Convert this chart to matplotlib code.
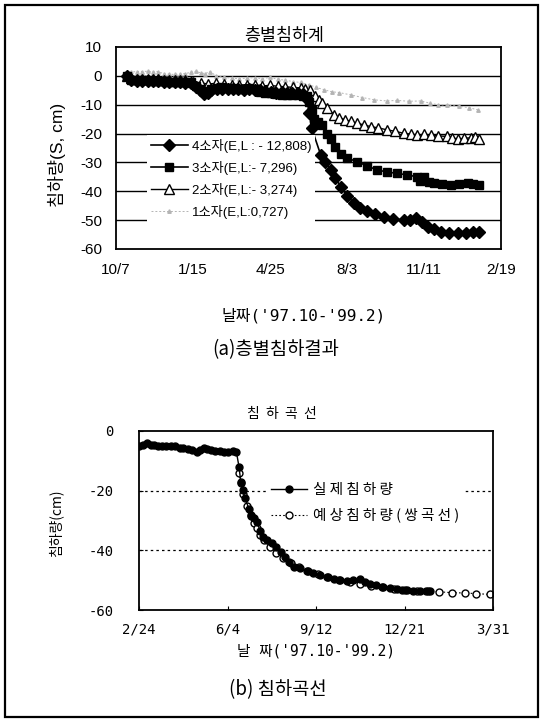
import matplotlib
matplotlib.use("Agg")
import matplotlib.pyplot as plt
from matplotlib.patches import Rectangle

KR = ['Liberation Sans', 'Noto Sans CJK KR']
KR_MONO = ['DejaVu Sans Mono', 'Noto Sans CJK KR']
plt.rcParams['font.family'] = KR
plt.rcParams['axes.unicode_minus'] = False

# ---- (a) layer settlement, days since '97.10.7
top_ticks = [0, 100, 200, 300, 400, 500]
top_ticklabels = ['10/7', '1/15', '4/25', '8/3', '11/11', '2/19']

s4_day = [14, 20, 27, 34, 41, 48, 55, 62, 69, 76, 83, 90, 97, 104, 109, 114, 119, 124, 131, 138,
          145, 152, 159, 166, 173, 180, 187, 194, 201, 208, 215, 222, 229, 236, 243, 248, 251, 254,
          266, 272, 279, 285, 292, 300, 309, 317, 326, 337, 348, 360, 374, 382, 389, 397, 405, 413,
          422, 433, 444, 455, 464, 471]
s4_val = [0, -1.5, -1.8, -1.8, -1.7, -1.8, -1.9, -2.0, -2.2, -2.2, -2.3, -2.4, -2.5, -3.8, -5.0, -6.3,
          -5.8, -5.0, -4.5, -4.6, -4.4, -4.7, -4.5, -4.8, -4.6, -4.9, -5.0, -5.4, -5.6, -5.8, -5.5, -5.9,
          -6.0, -5.8, -6.2, -8.0, -13.0, -18.0, -27.5, -30.0, -32.6, -35.5, -38.4, -41.5, -44.0, -45.8,
          -47.0, -48.0, -48.8, -49.5, -50.0, -49.8, -49.3, -50.8, -52.3, -53.2, -54.0, -54.3, -54.4,
          -54.3, -54.2, -54.0]

s3_day = [14, 20, 27, 34, 41, 48, 55, 62, 69, 76, 83, 90, 97, 104, 109, 114, 119, 124, 131, 138,
          145, 152, 159, 166, 173, 180, 187, 194, 201, 208, 215, 222, 229, 236, 243, 248, 251, 254,
          257, 262, 268, 274, 279, 285, 292, 300, 313, 326, 339, 352, 365, 378, 391, 395, 400, 406,
          413, 424, 435, 446, 457, 464, 471]
s3_val = [0, -1.3, -1.5, -1.6, -1.5, -1.7, -1.8, -1.9, -2.0, -2.1, -2.0, -2.2, -2.3, -3.5, -4.5, -5.5,
          -5.2, -4.5, -4.2, -4.0, -4.3, -4.1, -4.4, -4.5, -4.2, -4.5, -5.5, -5.8, -6.0, -6.3, -6.5, -6.6,
          -6.8, -6.7, -7.0, -7.0, -9.0, -12.0, -15.0, -16.0, -17.0, -20.0, -22.0, -24.5, -27.0, -28.5,
          -29.7, -31.2, -32.6, -33.3, -33.8, -34.3, -35.0, -36.5, -35.0, -36.8, -37.2, -37.5, -37.8,
          -37.5, -37.0, -37.6, -37.8]

s2_day = [14, 20, 27, 34, 41, 48, 55, 62, 69, 76, 83, 90, 100, 110, 120, 130, 140, 150, 160, 170,
          180, 190, 200, 210, 220, 230, 240, 246, 252, 258, 263, 268, 274, 283, 290, 298, 305, 313,
          322, 331, 340, 352, 362, 374, 383, 391, 400, 409, 418, 430, 437, 444, 452, 461, 466, 471]
s2_val = [0, -0.8, -1.0, -1.1, -1.0, -1.2, -1.2, -1.3, -1.3, -1.4, -1.5, -1.5, -2.0, -2.5, -2.8, -2.6,
          -2.9, -3.2, -3.0, -3.3, -3.1, -3.5, -3.3, -3.6, -3.8, -4.0, -4.2, -4.5, -5.0, -7.0, -8.3,
          -9.5, -11.0, -13.5, -14.5, -15.3, -15.8, -16.4, -17.0, -17.6, -18.0, -18.7, -19.2, -19.9,
          -20.2, -20.5, -20.3, -20.5, -20.8, -21.0, -21.4, -22.0, -21.6, -21.5, -21.2, -22.0]

s1_day = [14, 20, 27, 34, 41, 48, 55, 62, 69, 76, 83, 90, 97, 104, 110, 116, 122, 130, 140, 150,
          160, 170, 180, 190, 200, 210, 220, 230, 240, 250, 260, 270, 280, 290, 305, 320, 335, 352,
          365, 380, 396, 408, 418, 430, 445, 458, 470]
s1_val = [0, 1.3, 1.5, 1.5, 1.6, 1.4, 1.5, 0.7, 0.6, 0.5, 0.6, 0.8, 1.2, 1.6, 1.0, 0.8, 1.5, 0.0,
          -0.5, -0.8, -1.0, -0.8, -0.6, -1.0, -0.5, -1.2, -1.5, -2.0, -2.3, -3.0, -4.0, -4.8, -5.5,
          -5.8, -6.6, -7.5, -8.3, -8.7, -8.5, -8.8, -8.7, -9.5, -10.0, -10.2, -10.5, -11.0, -11.8]

top_labels = ['4소자(E,L : - 12,808)', '3소자(E,L:- 7,296)', '2소자(E,L:- 3,274)', '1소자(E,L:0,727)']

# ---- (b) settlement curve, days since '98.2.24
bot_ticks = [0, 100, 200, 300, 400]
bot_ticklabels = ['2/24', '6/4', '9/12', '12/21', '3/31']

act_day = [0, 5, 9, 13, 17, 21, 26, 31, 36, 41, 46, 50, 55, 60, 65, 69, 73, 77, 81, 86, 91, 96, 101,
           106, 110, 113, 115, 117, 120, 124, 127, 130, 133, 137, 140, 145, 150, 155, 160, 165, 170,
           175, 182, 190, 197, 205, 212, 220, 227, 235, 242, 250, 255, 261, 268, 276, 284, 291, 297,
           303, 310, 318, 324, 329]
act_val = [-5.0, -4.6, -4.1, -4.6, -4.8, -4.9, -5.0, -4.9, -5.0, -5.0, -5.6, -5.8, -6.0, -6.5, -6.9,
           -6.3, -5.7, -6.2, -6.5, -6.7, -6.8, -6.9, -6.9, -6.8, -6.9, -12.0, -17.0, -19.8, -22.6,
           -26.0, -28.2, -29.0, -30.4, -33.5, -35.4, -36.5, -37.5, -39.0, -40.5, -42.2, -43.8, -45.5,
           -46.0, -46.9, -47.6, -48.3, -49.0, -49.5, -49.9, -50.2, -50.0, -49.7, -50.6, -51.2, -51.7,
           -52.2, -52.5, -52.8, -53.2, -53.3, -53.5, -53.6, -53.5, -53.6]

pred_day = [113, 115, 118, 122, 126, 130, 133, 137, 141, 148, 155, 163, 172, 181, 191, 202, 214, 226,
            238, 250, 262, 275, 288, 301, 314, 327, 339, 354, 368, 381, 397]
pred_val = [-14.0, -17.5, -21.0, -25.0, -28.5, -31.0, -32.5, -35.0, -36.5, -38.8, -40.8, -42.6,
            -44.3, -45.6, -46.8, -47.9, -48.9, -49.8, -50.6, -51.2, -51.8, -52.3, -52.8, -53.2,
            -53.5, -53.7, -53.9, -54.2, -54.3, -54.5, -54.8]

bot_labels = ['실 제 침 하 량', '예 상 침 하 량 ( 쌍 곡 선 )']


def fx(px):
    return px / 545.0


def fy(py):
    return 1 - py / 720.0


fig = plt.figure(figsize=(5.45, 7.2), dpi=100)
fig.patches.append(Rectangle((fx(5), fy(717)), fx(538) - fx(5), fy(5) - fy(717),
                             transform=fig.transFigure, fill=False, lw=1.6, ec='black'))

# ---------- top chart
ax1 = fig.add_axes([fx(116), fy(249), fx(501) - fx(116), fy(47) - fy(249)])
for y in [0, -10, -20, -30, -40, -50]:
    ax1.axhline(y, color='black', lw=1.0, zorder=1)
ax1.plot(s1_day, s1_val, color='#b4b4b4', ls=(0, (2, 2)), lw=0.7, marker='^', ms=2.5,
         mfc='#b4b4b4', mec='#b4b4b4', label=top_labels[3], zorder=2)
ax1.plot(s2_day, s2_val, color='black', lw=1.0, marker='^', ms=6.5, mfc='white', mec='black',
         mew=1.0, label=top_labels[2], zorder=3)
ax1.plot(s3_day, s3_val, color='black', lw=1.2, marker='s', ms=6, label=top_labels[1], zorder=4)
ax1.plot(s4_day, s4_val, color='black', lw=1.2, marker='D', ms=6, label=top_labels[0], zorder=5)
ax1.set_xlim(0, 500)
ax1.set_ylim(-60, 10)
ax1.set_xticks(top_ticks)
ax1.set_xticklabels(top_ticklabels)
ax1.set_yticks(range(-60, 11, 10))
ax1.tick_params(length=0, labelsize=11, pad=10)
for sp in ax1.spines.values():
    sp.set_linewidth(1.3)
h, l = ax1.get_legend_handles_labels()
leg = ax1.legend(h[::-1], l[::-1], loc='upper left', bbox_to_anchor=(0.08, 0.565), fontsize=9.5,
                 frameon=True, fancybox=False, edgecolor='none', facecolor='white', framealpha=1,
                 handlelength=2.8, handletextpad=0.3, labelspacing=0.6, borderpad=0.3,
                 borderaxespad=0)

fig.text(fx(284), fy(36), '층별침하계', ha='center', va='center', fontsize=12.5)
fig.text(fx(57), fy(155), '침하량(S, cm)', ha='center', va='center', rotation=90, fontsize=12.5)
fig.text(fx(304), fy(316), "날짜('97.10-'99.2)", ha='center', va='center', fontsize=11.5,
         family=KR_MONO)
fig.text(fx(276), fy(350), '(a)층별침하결과', ha='center', va='center', fontsize=13.5,
         family=['Noto Sans CJK KR'])

# ---------- bottom chart
ax2 = fig.add_axes([fx(139), fy(610), fx(493) - fx(139), fy(431) - fy(610)])
for y in [-20, -40]:
    ax2.axhline(y, color='black', lw=0.9, ls=(0, (2, 2.5)), zorder=1)
ax2.plot(pred_day, pred_val, color='black', ls=(0, (1.5, 2)), lw=0.8, marker='o', ms=5,
         mfc='white', mec='black', mew=1.0, label=bot_labels[1], zorder=2)
ax2.plot(act_day, act_val, color='black', lw=1.0, marker='o', ms=5, label=bot_labels[0], zorder=3)
ax2.set_xlim(0, 400)
ax2.set_ylim(-60, 0)
ax2.set_xticks(bot_ticks)
ax2.set_xticklabels(bot_ticklabels, family=KR_MONO)
ax2.set_yticks([-60, -40, -20, 0])
ax2.set_yticklabels(['-60', '-40', '-20', '0'], family=KR_MONO)
ax2.tick_params(direction='in', length=3, labelsize=10)
ax2.tick_params(axis='x', pad=9)
ax2.tick_params(axis='y', pad=18)
for sp in ax2.spines.values():
    sp.set_linewidth(1.3)
h, l = ax2.get_legend_handles_labels()
ax2.legend(h[::-1], l[::-1], loc='upper left', bbox_to_anchor=(0.36, 0.735),
           prop={'family': ['Noto Sans CJK KR'], 'size': 10.5},
           frameon=True, fancybox=False, edgecolor='none', facecolor='white', framealpha=1,
           handlelength=2.5, handletextpad=0.4, labelspacing=0.75, borderpad=0.3, borderaxespad=0)

fig.text(fx(282), fy(414), '침  하  곡  선', ha='center', va='center', fontsize=10,
         family=['Noto Sans CJK KR'])
fig.text(fx(56), fy(523), '침하량(cm)', ha='center', va='center', rotation=90, fontsize=10,
         family=['Noto Sans CJK KR'])
fig.text(fx(316), fy(651), "날 짜('97.10-'99.2)", ha='center', va='center', fontsize=10.5,
         family=KR_MONO)
fig.text(fx(278), fy(690), '(b) 침하곡선', ha='center', va='center', fontsize=13.5,
         family=['Noto Sans CJK KR'])

fig.savefig('out.png', dpi=100)
